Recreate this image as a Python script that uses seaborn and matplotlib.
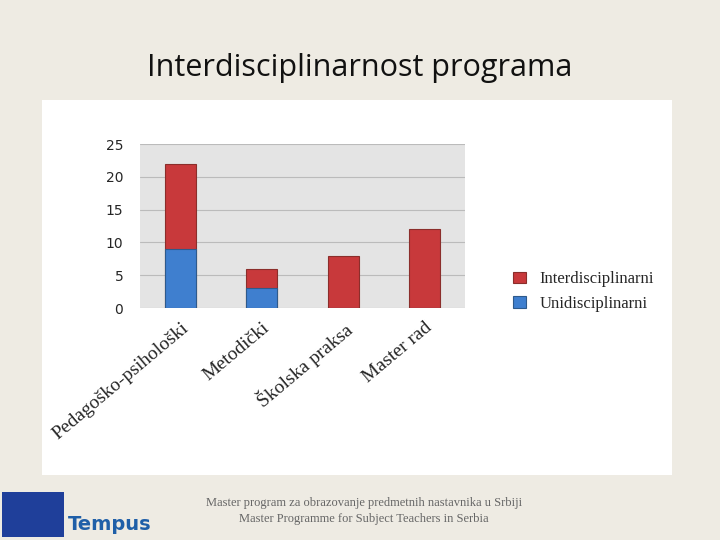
import matplotlib
matplotlib.use("Agg")
import matplotlib.pyplot as plt
import seaborn as sns
import pandas as pd
from matplotlib.patches import Rectangle

categories = ["Pedagoško-psihološki", "Metodički", "Školska praksa", "Master rad"]
unidisciplinarni = [9, 3, 0, 0]
interdisciplinarni = [13, 3, 8, 12]
yticks = [0, 5, 10, 15, 20, 25]

totals = [u + i for u, i in zip(unidisciplinarni, interdisciplinarni)]
df = pd.DataFrame({"cat": categories, "uni": unidisciplinarni, "total": totals})

sns.set_theme(style="white")
plt.rcParams['font.family'] = ['DejaVu Sans']

fig = plt.figure(figsize=(7.2, 5.4), dpi=100)
fig.patch.set_facecolor("#EEEBE3")
bg = fig.add_axes([42/720, 1-475/540, 630/720, 375/540], zorder=-1)
bg.set_facecolor("white")
bg.set_xticks([]); bg.set_yticks([])
for s in bg.spines.values():
    s.set_visible(False)

fig.text(0.5, 1-68/540, "Interdisciplinarnost programa", ha="center", va="center",
         fontsize=22, family="Open Sans", color="#111111")

ax = fig.add_axes([140/720, 1-308/540, 325/720, 164/540])
ax.set_facecolor("#E4E4E4")
sns.barplot(data=df, x="cat", y="total", color="#C8393B", ax=ax, width=0.38,
            label="Interdisciplinarni", edgecolor="#8B2E2B", linewidth=0.8, saturation=1)
sns.barplot(data=df, x="cat", y="uni", color="#3F7FCF", ax=ax, width=0.38,
            label="Unidisciplinarni", edgecolor="#2E5A8B", linewidth=0.8, saturation=1)
ax.set_ylim(0, 25)
ax.set_yticks(yticks)
ax.set_yticklabels([str(t) for t in yticks], fontsize=10)
ax.yaxis.grid(True, color="#BBBBBB", linewidth=0.8)
ax.set_axisbelow(True)
ax.set_xlabel("")
ax.set_ylabel("")
for s in ax.spines.values():
    s.set_visible(False)
ax.set_xticks(range(len(categories)))
ax.set_xticklabels(categories, rotation=40, ha="right", rotation_mode="anchor",
                   fontsize=14, family="Liberation Serif")
ax.tick_params(axis="x", pad=8, length=0)
ax.tick_params(axis="y", length=0, pad=12)
ax.legend(loc="center left", bbox_to_anchor=(1.1, 0.1), frameon=False,
          prop={"family": "Liberation Serif", "size": 12}, handlelength=0.8)

fig.text(0.505, 1-506/540, "Master program za obrazovanje predmetnih nastavnika u Srbiji",
         ha="center", fontsize=9, family="Liberation Serif", color="#666666")
fig.text(0.505, 1-522/540, "Master Programme for Subject Teachers in Serbia",
         ha="center", fontsize=9, family="Liberation Serif", color="#666666")
fig.patches.append(Rectangle((2/720, 1-537/540), 62/720, 45/540,
                             transform=fig.transFigure, facecolor="#1F3F9A", edgecolor="none"))
fig.text(68/720, 1-530/540, "Tempus", fontsize=14, color="#1F5FA8", weight="bold")

fig.savefig("out.png", dpi=100, facecolor=fig.get_facecolor())
